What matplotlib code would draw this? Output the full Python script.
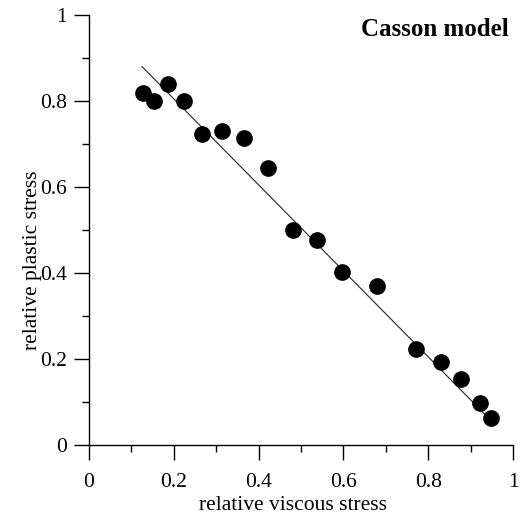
import matplotlib
matplotlib.use('Agg')
import matplotlib.pyplot as plt
from matplotlib.ticker import MultipleLocator

plt.rcParams['font.family'] = ['Liberation Serif', 'DejaVu Serif']

# measured points (relative viscous stress, relative plastic stress)
viscous = [0.127, 0.153, 0.186, 0.224, 0.267, 0.314, 0.366, 0.422,
           0.480, 0.538, 0.596, 0.679, 0.771, 0.830, 0.877, 0.923, 0.947]
plastic = [0.819, 0.800, 0.840, 0.800, 0.723, 0.730, 0.714, 0.644,
           0.500, 0.477, 0.402, 0.370, 0.224, 0.192, 0.154, 0.097, 0.062]

# fitted line end points
fit_x = [0.125, 0.945]
fit_y = [0.880, 0.060]

fig = plt.figure(figsize=(5.28, 5.20), dpi=100)
ax = fig.add_axes([89 / 528, 75 / 520, 424 / 528, 430 / 520])

ax.plot(fit_x, fit_y, color='#222222', lw=0.8)
ax.plot(viscous, plastic, 'o', color='black', ms=11, mec='black', zorder=3)

ax.set_xlim(0, 1)
ax.set_ylim(0, 1)
for s in ['top', 'right']:
    ax.spines[s].set_visible(False)
for s in ['left', 'bottom']:
    ax.spines[s].set_linewidth(1.0)

ax.xaxis.set_major_locator(MultipleLocator(0.2))
ax.xaxis.set_minor_locator(MultipleLocator(0.1))
ax.yaxis.set_major_locator(MultipleLocator(0.2))
ax.yaxis.set_minor_locator(MultipleLocator(0.1))
ax.xaxis.set_major_formatter(lambda v, p: '%g' % round(v, 2))
ax.yaxis.set_major_formatter(lambda v, p: '%g' % round(v, 2))

ax.tick_params(which='major', direction='out', length=11, width=1.0, labelsize=15.5)
ax.tick_params(which='minor', direction='out', length=5, width=1.0)
ax.tick_params(axis='x', which='major', pad=9)
ax.tick_params(axis='y', which='major', pad=5)

ax.set_xlabel('relative viscous stress', fontsize=15.5)
ax.set_ylabel('relative plastic stress', fontsize=15.5)
ax.xaxis.set_label_coords(0.481, -0.118)
ax.yaxis.set_label_coords(-0.112, 0.43)

ax.text(0.99, 0.967, 'Casson model', transform=ax.transAxes,
        ha='right', va='center', fontsize=18, fontweight='bold')

fig.savefig('out.png', dpi=100)
